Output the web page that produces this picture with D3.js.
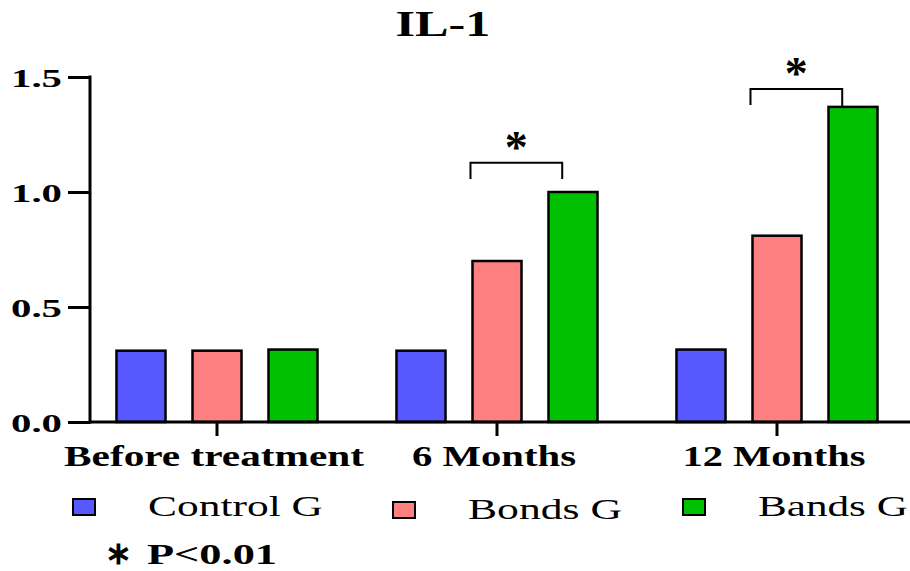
<!DOCTYPE html>
<html lang="en">
<head>
    <meta charset="UTF-8">
    <title>IL-1</title>
    <style>
        body { margin: 0; background: #fff; }
        text { font-family: "Liberation Serif", "Times New Roman", serif; fill: #000; }
        .bold { font-weight: bold; }
    </style>
    <script src="https://d3js.org/d3.v7.min.js"></script>
</head>
<body>
<svg id="chart" width="910" height="571"></svg>

<script>
    // data
    const categories = ["Before treatment", "6 Months", "12 Months"];
    const groups = ["Control G", "Bonds G", "Bands G"];
    const controlG = [0.31, 0.31, 0.315];
    const bondsG = [0.31, 0.70, 0.81];
    const bandsG = [0.315, 1.00, 1.37];
    const yTicks = [0.0, 0.5, 1.0, 1.5];
    const colors = ["#5858ff", "#ff8080", "#00c000"];
    // significance brackets: category, bracket top value, leg bottom values
    const brackets = [
        {cat: "6 Months", top: 1.127, legL: 1.057, legR: 1.057},
        {cat: "12 Months", top: 1.448, legL: 1.378, legR: 1.37}
    ];

    const svg = d3.select("#chart");
    const series = [controlG, bondsG, bandsG];
    const table = [];
    categories.forEach(function (c, i) {
        groups.forEach(function (g, j) {
            table.push({cat: c, grp: g, value: series[j][i], color: colors[j]});
        });
    });

    // the original picture is stretched sideways, so text is scaled in x to a measured width
    function stretch(t, x, y, w) {
        t.attr("x", 0).attr("y", 0).attr("dy", null);
        const natural = t.node().getComputedTextLength();
        t.attr("transform", "translate(" + x + "," + y + ") scale(" + (w / natural) + ",1)");
        return t;
    }

    const x = d3.scaleBand().domain(categories).range([77, 917]);
    const xi = d3.scaleBand().domain(groups).range([-114, 114])
        .paddingInner(0.355).paddingOuter(0.1775);
    const y = d3.scaleLinear().domain([0, 1.5]).range([422, 77]);

    // title
    stretch(svg.append("text").attr("class", "bold")
        .attr("text-anchor", "middle")
        .attr("font-size", 36)
        .text("IL-1"), 443, 36, 95);

    // bars
    svg.append("g").selectAll("rect")
        .data(table)
        .join("rect")
        .attr("x", d => x(d.cat) + x.bandwidth() / 2 + xi(d.grp))
        .attr("y", d => y(d.value))
        .attr("width", xi.bandwidth())
        .attr("height", d => y(0) - y(d.value))
        .attr("fill", d => d.color)
        .attr("stroke", "#000")
        .attr("stroke-width", 2.5);

    // y axis
    const yAxis = svg.append("g").attr("transform", "translate(90,0)")
        .call(d3.axisLeft(y).tickValues(yTicks).tickFormat(d3.format(".1f"))
            .tickSize(22).tickPadding(6));
    yAxis.select(".domain").remove();
    yAxis.append("line").attr("x1", 0).attr("x2", 0)
        .attr("y1", y(1.5) - 1.5).attr("y2", y(0) + 1.5)
        .attr("stroke", "#000").attr("stroke-width", 3);
    yAxis.selectAll(".tick line").attr("stroke", "#000").attr("stroke-width", 3);
    yAxis.selectAll(".tick text").each(function () {
        const t = d3.select(this)
            .attr("class", "bold")
            .attr("font-size", 26)
            .attr("font-family", "Liberation Serif")
            .attr("text-anchor", "end");
        stretch(t, -28, 9, 51);
    });

    // x axis
    const xAxis = svg.append("g").attr("transform", "translate(0," + y(0) + ")")
        .call(d3.axisBottom(x).tickSize(14).tickPadding(0));
    xAxis.select(".domain").remove();
    xAxis.append("line").attr("x1", 90).attr("x2", 910)
        .attr("stroke", "#000").attr("stroke-width", 3);
    xAxis.selectAll(".tick line").attr("stroke", "#000").attr("stroke-width", 3);
    const xLabelWidth = {"Before treatment": 300, "6 Months": 164, "12 Months": 183};
    xAxis.selectAll(".tick text").each(function (d) {
        const t = d3.select(this)
            .attr("class", "bold")
            .attr("font-size", 30)
            .attr("font-family", "Liberation Serif")
            .attr("text-anchor", "middle");
        stretch(t, -3, 44, xLabelWidth[d]);
    });

    // significance brackets
    brackets.forEach(function (b) {
        const cx = x(b.cat) + x.bandwidth() / 2;
        const x1 = cx + xi(groups[1]) - 2;
        const x2 = cx + xi(groups[2]) + xi.bandwidth() * 0.28;
        svg.append("path")
            .attr("d", d3.line()([[x1, y(b.legL)], [x1, y(b.top)], [x2, y(b.top)], [x2, y(b.legR)]]))
            .attr("fill", "none").attr("stroke", "#000").attr("stroke-width", 2);
        svg.append("text").attr("class", "bold")
            .attr("x", (x1 + x2) / 2).attr("y", y(b.top))
            .attr("text-anchor", "middle")
            .attr("font-size", 46)
            .text("*");
    });

    // legend
    const legendX = [73, 393, 683];
    const legendW = [175, 154, 150];
    const legendDy = [0, 3, 0];
    groups.forEach(function (g, i) {
        svg.append("rect")
            .attr("x", legendX[i]).attr("y", 499 + legendDy[i])
            .attr("width", 22).attr("height", 16)
            .attr("fill", colors[i]).attr("stroke", "#000").attr("stroke-width", 2);
        stretch(svg.append("text")
            .attr("font-size", 29)
            .text(g), legendX[i] + 75, 516 + legendDy[i], legendW[i]);
    });

    // p value note
    svg.append("text").attr("class", "bold")
        .attr("x", 118).attr("y", 564)
        .attr("text-anchor", "middle")
        .attr("font-family", "DejaVu Sans")
        .attr("font-size", 32)
        .text("\u2217");
    stretch(svg.append("text").attr("class", "bold")
        .attr("font-size", 29)
        .text("P<0.01"), 147, 564, 130);
</script>
</body>
</html>
